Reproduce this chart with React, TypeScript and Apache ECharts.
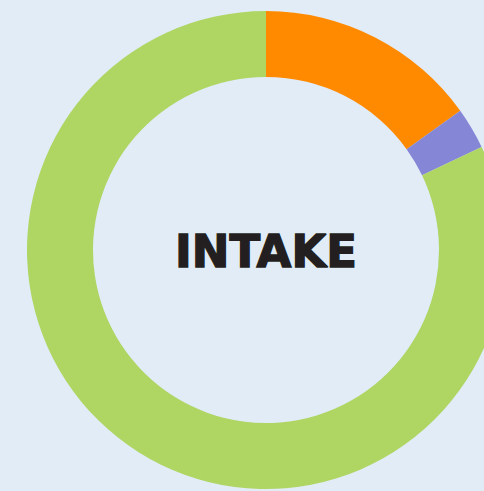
import React, { useEffect, useRef } from "react";
import * as echarts from "echarts";

const categories = ["Segment A", "Segment B", "Segment C"];
const values = [15.1, 2.8, 82.1];
const colors = ["#FF8A00", "#8587D6", "#AFD563"];
const centerLabel = "INTAKE";

export default function App() {
  const ref = useRef<HTMLDivElement>(null);
  useEffect(() => {
    if (!ref.current) return;
    const chart = echarts.init(ref.current, undefined, { renderer: "svg" });
    chart.setOption({
      animation: false,
      backgroundColor: "#E1ECF7",
      graphic: [
        {
          type: "text",
          x: 266,
          y: 251,
          style: {
            text: centerLabel,
            font: "bold 45px 'DejaVu Sans'",
            fill: "#231F20",
            stroke: "#231F20",
            lineWidth: 1.4,
            textAlign: "center",
            textVerticalAlign: "middle",
          },
        },
      ],
      series: [
        {
          type: "pie",
          center: [266, 250],
          radius: [173, 239],
          startAngle: 90,
          clockwise: true,
          label: { show: false },
          labelLine: { show: false },
          emphasis: { disabled: true },
          itemStyle: { borderWidth: 0 },
          data: categories.map((name, i) => ({
            name,
            value: values[i],
            itemStyle: { color: colors[i] },
          })),
        },
      ],
    });
    return () => chart.dispose();
  }, []);
  return (
    <div
      ref={ref}
      style={{ position: "absolute", left: 0, top: 0, width: 484, height: 491 }}
    />
  );
}
